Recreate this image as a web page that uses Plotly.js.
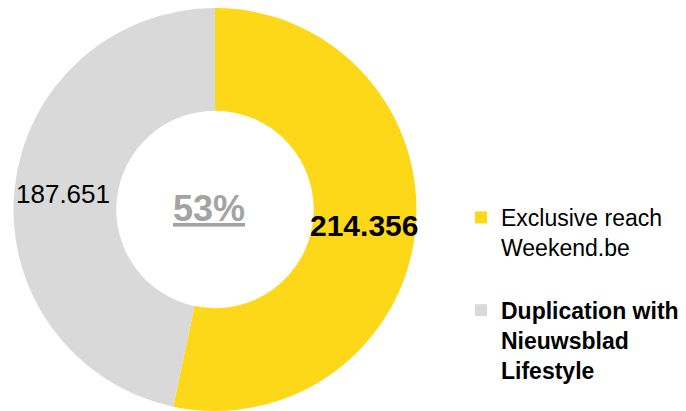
<!DOCTYPE html>
<html>
<head>
<meta charset="utf-8">
<script src="https://cdn.plot.ly/plotly-3.0.1.min.js"></script>
<style>html,body{margin:0;padding:0;background:#fff;}#chart{width:686px;height:411px;}</style>
</head>
<body>
<div id="chart"></div>
<script>
// Data
var categories = ["Exclusive reach<br>Weekend.be<br>&nbsp;", "<b>Duplication with<br>Nieuwsblad<br>Lifestyle</b>"];
var values = [214356, 187651];
var valueLabels = ["214.356", "187.651"];
var colors = ["#FDD819", "#D9D9D9"];

var W = 686, H = 411;
var domX = [0, 430 / W];
var domY = [0, 403 / H];
var hole = 0.49;

var total = values.reduce(function (a, b) { return a + b; }, 0);
var pct = Math.round(values[0] / total * 100) + "%";

// pie geometry in pixels (for label placement from data)
var cx = (domX[0] + domX[1]) / 2 * W;
var cy = H - (domY[0] + domY[1]) / 2 * H;
var R = Math.min((domX[1] - domX[0]) * W, (domY[1] - domY[0]) * H) / 2;
var rMid = R * (1 + hole) / 2;

var annotations = [];
var cum = 0;
var labelFonts = [
  {size: 30, color: "#000000", weight: "bold"},
  {size: 26, color: "#000000", weight: "normal"}
];
values.forEach(function (v, i) {
  var mid = (cum + v / 2) / total * 2 * Math.PI;
  cum += v;
  var px = cx + rMid * Math.sin(mid);
  var py = cy - rMid * Math.cos(mid);
  annotations.push({
    text: valueLabels[i],
    x: (px - (i === 1 ? 3 : 0)) / W, y: 1 - py / H, xref: "paper", yref: "paper",
    xanchor: "center", yanchor: "middle", showarrow: false,
    font: {family: "Liberation Sans, Arial, sans-serif", size: labelFonts[i].size, color: labelFonts[i].color, weight: labelFonts[i].weight}
  });
});
annotations.push({
  text: "<u><b>" + pct + "</b></u>",
  x: (cx - 6) / W, y: 1 - (cy - 1) / H, xref: "paper", yref: "paper",
  xanchor: "center", yanchor: "middle", showarrow: false,
  font: {family: "Liberation Sans, Arial, sans-serif", size: 36, color: "#A3A3A3"}
});

var trace = {
  type: "pie",
  labels: categories,
  values: values,
  hole: hole,
  sort: false,
  direction: "clockwise",
  rotation: 0,
  marker: {colors: colors, line: {width: 0}},
  textinfo: "none",
  hoverinfo: "none",
  domain: {x: domX, y: domY}
};

var layout = {
  width: W, height: H,
  margin: {l: 0, r: 0, t: 0, b: 0},
  paper_bgcolor: "#ffffff",
  showlegend: true,
  legend: {
    x: 461 / W, xanchor: "left",
    y: 1 - 196 / H, yanchor: "top",
    valign: "top",
    font: {family: "Liberation Sans, Arial, sans-serif", size: 23, color: "#000000"},
    bgcolor: "rgba(0,0,0,0)"
  },
  annotations: annotations
};

Plotly.newPlot("chart", [trace], layout, {staticPlot: true});
</script>
</body>
</html>
